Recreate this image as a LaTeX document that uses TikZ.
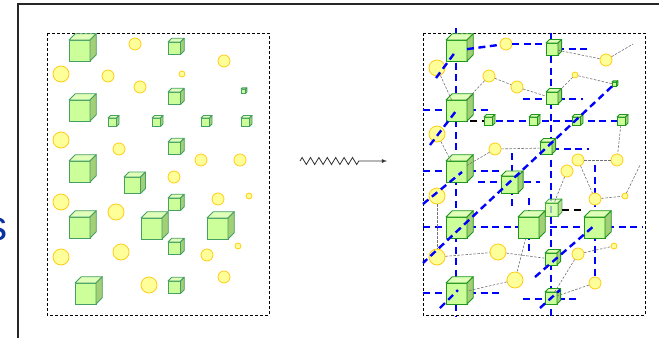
\documentclass[tikz,border=0pt]{standalone}
\usepackage{fontspec}
\setsansfont{Liberation Sans}
\usetikzlibrary{decorations.pathmorphing}

\definecolor{beadfill}{RGB}{255,255,153}
\definecolor{beadline}{RGB}{255,204,20}
\definecolor{cubefill}{RGB}{204,255,153}
\definecolor{cubelight}{RGB}{224,255,184}
\definecolor{cubedark}{RGB}{163,208,118}
\definecolor{leftline}{RGB}{70,160,100}
\definecolor{rightline}{RGB}{30,150,30}
\definecolor{letterblue}{RGB}{10,50,160}
\colorlet{cubeline}{leftline}

\tikzset{
  bead/.style={circle, draw=beadline, fill=beadfill, line width=0.8pt, inner sep=0pt, minimum size=#1},
  cubebox/.style={rectangle, draw=cubeline, fill=cubefill, line width=0.8pt, inner sep=0pt, outer sep=0pt, minimum size=#1},
  cubetop/.style={draw=cubeline, fill=cubelight, line width=0.8pt, line join=round},
  cubeside/.style={draw=cubeline, fill=cubedark, line width=0.8pt, line join=round},
  panel/.style={line width=0.8pt, dash pattern=on 3pt off 2pt},
  lattice/.style={blue, line width=2.4pt, dash pattern=on 7pt off 4.5pt},
  blackbar/.style={black, line width=2.4pt, dash pattern=on 7pt off 4.5pt},
  link/.style={black!55, line width=0.6pt, dash pattern=on 2.5pt off 1.5pt},
}

% cube: name, x, y (top left of front face), size
\newcommand{\drawcube}[4]{%
  \pgfmathsetmacro{\cd}{0.3*#4}
  \node[cubebox={#4pt}] (#1) at ({#2+#4/2},{#3+#4/2}) {};
  \filldraw[cubetop] (#1.north west) -- ++(\cd,-\cd) -- ++(#4,0) -- (#1.north east) -- cycle;
  \filldraw[cubeside] (#1.north east) -- ++(\cd,-\cd) -- ++(0,#4) -- (#1.south east) -- cycle;
}

\begin{document}
\begin{tikzpicture}[x=1pt,y=-1pt]
	\useasboundingbox (0,0) rectangle (659,338);
	% frame
	\draw[black!85, line width=2pt] (18,338) -- (18,4) -- (659,4);
	\node[text=letterblue, font=\sffamily\fontsize{42}{42}\selectfont, anchor=base east, inner sep=0pt] (word) at (8,240) {s};

	% before
	\begin{scope}
		\draw[panel] (47,33) rectangle (269,315);
		\foreach \x/\y/\r [count=\i] in {135/44/6, 224/61/6, 61/74/8, 108/76/6, 182/74/3, 140/87/6,
			61/140/8, 119/149/6, 201/160/6, 240/160/6, 174/177/6, 61/202/8, 116/212/8, 218/199/6,
			249/196/3, 61/257/8, 121/252/8, 207/255/6, 238/246/3, 149/285/8, 224/277/6}
			\node[bead={2*\r*1pt}] (lb\i) at (\x,\y) {};
		\foreach \x/\y/\s [count=\i] in {69/40/21, 168/42/12.5, 69/100/21, 168/92/12.5, 241/89/4.5,
			108/118/8.5, 152/118/8.5, 201/118/8.5, 241/118/8.5, 168/142/12.5, 69/161/21, 124/177/16.5,
			168/198/12.5, 69/217/21, 141/218/21, 207/218/21, 168/242/12.5, 75/283/21, 168/281/12.5}
			\drawcube{lc\i}{\x}{\y}{\s};
	\end{scope}

	% transition
	\coordinate (wiggle) at (300,161);
	\coordinate (tip) at (387,161);
	\draw[-latex, black!80, line width=0.8pt, decorate, decoration={zigzag, segment length=8.4pt, amplitude=3.5pt, post length=28pt}] (wiggle) -- (tip);

	% after
	\begin{scope}
		\colorlet{cubeline}{rightline}
		\draw[panel] (423,33) rectangle (645,315);
		% lattice lines
		\draw[lattice] (456,28) -- (456,316);
		\draw[lattice] (551,33) -- (551,316);
		\draw[lattice] (512,153) -- (512,207);
		\draw[lattice] (529,198) -- (529,253);
		\draw[lattice] (595,165) -- (595,290);
		\draw[lattice] (557,49) -- (589,49);
		\draw[lattice] (423,110) -- (489,110);
		\draw[lattice] (523,99) -- (583,99);
		\draw[lattice] (484,121) -- (628,121);
		\draw[lattice] (552,149) -- (589,149);
		\draw[lattice] (423,171) -- (500,171);
		\draw[lattice] (478,182) -- (540,182);
		\draw[lattice] (423,227) -- (642,227);
		\draw[lattice] (423,293) -- (500,293);
		\draw[lattice] (523,299) -- (577,299);

		\node[bead=12pt] (rb1) at (506,44) {};
		\node[bead=12pt] (rb2) at (606,60) {};
		\node[bead=16pt] (rb3) at (437,68) {};
		\node[bead=12pt] (rb4) at (489,76) {};
		\node[bead=12pt] (rb5) at (517,87) {};
		\node[bead=6pt] (rb6) at (575,75) {};
		\node[bead=16pt] (rb7) at (437,134) {};
		\node[bead=12pt] (rb8) at (495,149) {};
		\node[bead=12pt] (rb9) at (578,160) {};
		\node[bead=12pt] (rb10) at (617,160) {};
		\node[bead=12pt] (rb11) at (567,171) {};
		\node[bead=16pt] (rb12) at (437,196) {};
		\node[bead=12pt] (rb13) at (595,199) {};
		\node[bead=6pt] (rb14) at (625,196) {};
		\node[bead=16pt] (rb15) at (437,257) {};
		\node[bead=16pt] (rb16) at (498,252) {};
		\node[bead=12pt] (rb17) at (578,254) {};
		\node[bead=6pt] (rb18) at (614,246) {};
		\node[bead=16pt] (rb19) at (515,280) {};
		\node[bead=12pt] (rb20) at (595,283) {};

		\drawcube{rc1}{446}{40}{21}
		\drawcube{rc2}{546}{43}{12}
		\drawcube{rc3}{612}{82}{4.5}
		\drawcube{rc4}{546}{92}{12}
		\drawcube{rc5}{446}{100}{21}
		\drawcube{rc6}{484}{117}{8.5}
		\drawcube{rc7}{529}{117}{8.5}
		\drawcube{rc8}{572}{117}{8.5}
		\drawcube{rc9}{617}{117}{8.5}
		\drawcube{rc10}{540}{142}{12}
		\drawcube{rc11}{446}{161}{21}
		\drawcube{rc12}{501}{176}{17}
		\begin{scope}[opacity=0.75]
			\drawcube{rc13}{545}{203}{13}
		\end{scope}
		\drawcube{rc14}{446}{217}{21}
		\drawcube{rc15}{518}{217}{21}
		\drawcube{rc16}{584}{217}{21}
		\drawcube{rc17}{545}{253}{12}
		\drawcube{rc18}{446}{283}{21}
		\drawcube{rc19}{545}{292}{12}

		% diagonal lattice lines
		\draw[lattice] (rc1) -- (rb1);
		\draw[lattice] (rb1) -- (rb1 -| rc2.west);
		\draw[lattice] (436,78) -- (456,51);
		\draw[lattice] (430,145) -- (456,111);
		\draw[lattice] (rc3) -- (423,263);
		\draw[lattice] (423,204) -- (462,172);
		\draw[lattice] (535,277) -- (595,225);
		\draw[lattice] (540,308) -- (560,290);
		\draw[lattice] (440,308) -- (458,290);
		\draw[blackbar] (470,121) -- (484,121);
		\draw[blackbar] (562,210) -- (583,210);

		% links
		\coordinate (end1) at (633,44);
		\coordinate (end2) at (640,165);
		\draw[link] (rc2) -- (rb2);
		\draw[link] (rb2) -- (end1);
		\draw[link] (rb3) -- (rc5);
		\draw[link] (rb4) -- (rc5);
		\draw[link] (rb4) -- (rb5);
		\draw[link] (rb5) -- (rc4);
		\draw[link] (rb6) -- (rc4);
		\draw[link] (rb6) -- (rc3);
		\draw[link] (rb7) -- (rc11);
		\draw[link] (rb8) -- (rc11);
		\draw[link] (rb8) -- (rc10);
		\draw[link] (rb9) -- (rb10);
		\draw[link] (rc9) -- (rb10);
		\draw[link] (rb9) -- (rb13);
		\draw[link] (rb11) -- (rc13);
		\draw[link] (rb13) -- (rb14);
		\draw[link] (rb14) -- (end2);
		\draw[link] (rb12) -- (rb15);
		\draw[link] (rb15) -- (rb16);
		\draw[link] (rb16) -- (rc17);
		\draw[link] (rc15) -- (rb19);
		\draw[link] (rb19) -- (rc18);
		\draw[link] (rb17) -- (rb18);
		\draw[link] (rb17) -- (rc19);
		\draw[link] (rb20) -- (rc19);
	\end{scope}
\end{tikzpicture}
\end{document}
